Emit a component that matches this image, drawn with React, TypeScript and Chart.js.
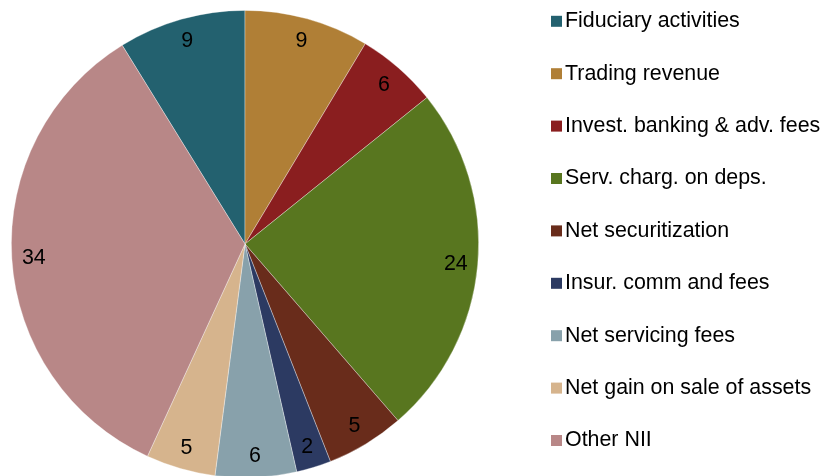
import React, { useEffect, useRef } from "react";
import { Chart, registerables } from "chart.js";

Chart.register(...registerables);

const categories = [
  "Fiduciary activities",
  "Trading revenue",
  "Invest. banking & adv. fees",
  "Serv. charg. on deps.",
  "Net securitization",
  "Insur. comm and fees",
  "Net servicing fees",
  "Net gain on sale of assets",
  "Other NII",
];
const shares = [8.8, 8.6, 5.6, 24.4, 5.4, 2.4, 5.6, 4.8, 34.3];
const colors = [
  "#23616F",
  "#B07F36",
  "#8A1E1F",
  "#58761F",
  "#692C1B",
  "#2C3A62",
  "#88A1AB",
  "#D6B48D",
  "#B88787",
];

const FONT = "'Liberation Sans', Arial, sans-serif";

const labelPlugin = {
  id: "sliceLabels",
  afterDatasetsDraw(chart: any) {
    const ctx = chart.ctx;
    const meta = chart.getDatasetMeta(0);
    ctx.save();
    ctx.font = `21.4px ${FONT}`;
    ctx.fillStyle = "#000";
    ctx.textAlign = "center";
    ctx.textBaseline = "middle";
    meta.data.forEach((arc: any, i: number) => {
      const p = arc.getProps(["x", "y", "startAngle", "endAngle", "outerRadius"], true);
      const mid = (p.startAngle + p.endAngle) / 2;
      const r = p.outerRadius - 22;
      ctx.fillText(String(Math.round(shares[i])), p.x + Math.cos(mid) * r, p.y + 1 + Math.sin(mid) * r);
    });
    ctx.restore();
  },
};

const legendPlugin = {
  id: "customLegend",
  afterDraw(chart: any) {
    const ctx = chart.ctx;
    ctx.save();
    ctx.font = `21.4px ${FONT}`;
    ctx.textAlign = "left";
    ctx.textBaseline = "middle";
    categories.forEach((name, i) => {
      const cy = 21.3 + i * 52.4;
      ctx.fillStyle = colors[i];
      ctx.fillRect(551, cy - 5.5, 11, 11);
      ctx.fillStyle = "#000";
      ctx.fillText(name, 565, cy);
    });
    ctx.restore();
  },
};

export default function App() {
  const ref = useRef<HTMLCanvasElement>(null);
  useEffect(() => {
    if (!ref.current) return;
    const total = shares.reduce((a, b) => a + b, 0);
    const chart = new Chart(ref.current, {
      type: "pie",
      data: {
        labels: categories,
        datasets: [
          {
            data: shares,
            backgroundColor: colors,
            borderColor: "rgba(255,255,255,0.45)",
            borderWidth: 0.75,
          },
        ],
      },
      options: {
        responsive: false,
        animation: false,
        rotation: -(shares[0] / total) * 360,
        layout: { padding: { left: 11, right: 343, top: 10, bottom: 12 } },
        plugins: {
          legend: { display: false },
          tooltip: { enabled: false },
        },
      },
      plugins: [labelPlugin, legendPlugin],
    });
    return () => chart.destroy();
  }, []);
  return (
    <div style={{ position: "fixed", left: 0, top: 0, width: 822, height: 476, overflow: "hidden", background: "#fff" }}>
      <canvas ref={ref} width={822} height={490} style={{ display: "block" }} />
    </div>
  );
}
